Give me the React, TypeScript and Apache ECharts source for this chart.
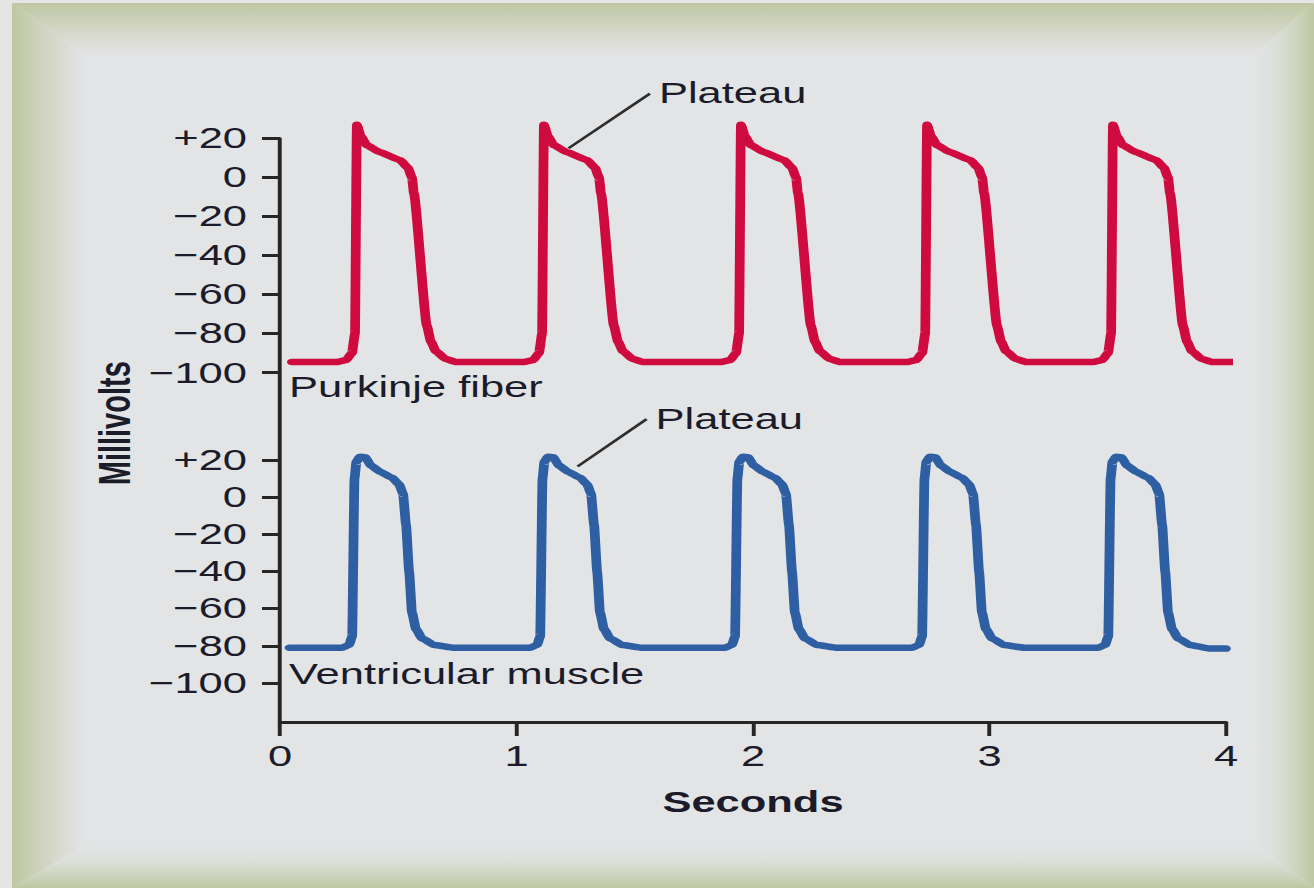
import React, { useEffect, useRef } from "react";
import * as echarts from "echarts";

// The original figure is stretched horizontally; the chart is drawn in a
// narrower box and stretched back with CSS.
const STRETCH = 1.5;
const PAGE_W = 1314;
const PAGE_H = 888;
const W = PAGE_W / STRETCH;

const secondsMin = 0;
const secondsMax = 4;
const mvMin = -100;
const mvMax = 20;
const mvStep = 20;

// Purkinje fiber action potentials (seconds, millivolts)
const purkinjeSec = [
  0.05,
  0.241, 0.279, 0.304, 0.317, 0.325, 0.342, 0.368, 0.422, 0.507, 0.541, 0.558, 0.566, 0.621, 0.638, 0.659, 0.701, 0.744,
  1.032, 1.07, 1.095, 1.108, 1.116, 1.133, 1.159, 1.213, 1.298, 1.332, 1.349, 1.357, 1.412, 1.429, 1.45, 1.492, 1.535,
  1.865, 1.903, 1.928, 1.941, 1.949, 1.966, 1.992, 2.046, 2.131, 2.165, 2.182, 2.19, 2.245, 2.262, 2.283, 2.325, 2.368,
  2.652, 2.69, 2.715, 2.728, 2.736, 2.753, 2.779, 2.833, 2.918, 2.952, 2.969, 2.977, 3.032, 3.049, 3.07, 3.112, 3.155,
  3.438, 3.476, 3.501, 3.514, 3.522, 3.539, 3.565, 3.619, 3.704, 3.738, 3.755, 3.763, 3.818, 3.835, 3.856, 3.898, 3.941,
  4.03,
];
const purkinjeMv = [
  -94.5,
  -94.5, -93.5, -90, -80, 27, 21, 16.5, 13, 9, 5, 0, -8, -76, -84, -89, -93, -94.5,
  -94.5, -93.5, -90, -80, 27, 21, 16.5, 13, 9, 5, 0, -8, -76, -84, -89, -93, -94.5,
  -94.5, -93.5, -90, -80, 27, 21, 16.5, 13, 9, 5, 0, -8, -76, -84, -89, -93, -94.5,
  -94.5, -93.5, -90, -80, 27, 21, 16.5, 13, 9, 5, 0, -8, -76, -84, -89, -93, -94.5,
  -94.5, -93.5, -90, -80, 27, 21, 16.5, 13, 9, 5, 0, -8, -76, -84, -89, -93, -94.5,
  -94.5,
];

// Ventricular muscle action potentials (seconds, millivolts)
const ventricularSec = [
  0.04,
  0.262, 0.292, 0.305, 0.315, 0.323, 0.338, 0.36, 0.385, 0.423, 0.473, 0.503, 0.52, 0.533, 0.546, 0.558, 0.575, 0.601, 0.651, 0.736,
  1.057, 1.087, 1.1, 1.11, 1.118, 1.133, 1.155, 1.18, 1.218, 1.268, 1.298, 1.315, 1.328, 1.341, 1.353, 1.37, 1.396, 1.446, 1.531,
  1.881, 1.911, 1.924, 1.934, 1.942, 1.957, 1.979, 2.004, 2.042, 2.092, 2.122, 2.139, 2.152, 2.165, 2.177, 2.194, 2.22, 2.27, 2.355,
  2.672, 2.702, 2.715, 2.725, 2.733, 2.748, 2.77, 2.795, 2.833, 2.883, 2.913, 2.93, 2.943, 2.956, 2.968, 2.985, 3.011, 3.061, 3.146,
  3.459, 3.489, 3.502, 3.512, 3.52, 3.535, 3.557, 3.582, 3.62, 3.67, 3.7, 3.717, 3.73, 3.743, 3.755, 3.772, 3.798, 3.848, 3.933,
  4.0,
];
const ventricularMv = [
  -81,
  -81, -79.5, -75, 10, 19, 21.8, 21.5, 17, 13.7, 10.5, 7, 2, -15, -40, -62, -71, -76, -79.5, -81,
  -81, -79.5, -75, 10, 19, 21.8, 21.5, 17, 13.7, 10.5, 7, 2, -15, -40, -62, -71, -76, -79.5, -81,
  -81, -79.5, -75, 10, 19, 21.8, 21.5, 17, 13.7, 10.5, 7, 2, -15, -40, -62, -71, -76, -79.5, -81,
  -81, -79.5, -75, 10, 19, 21.8, 21.5, 17, 13.7, 10.5, 7, 2, -15, -40, -62, -71, -76, -79.5, -81,
  -81, -79.5, -75, 10, 19, 21.8, 21.5, 17, 13.7, 10.5, 7, 2, -15, -40, -62, -71, -76, -79.5, -81.5,
  -81.5,
];

// "Plateau" leader lines (seconds, millivolts)
const purkinjeLeaderSec = [1.22, 1.564];
const purkinjeLeaderMv = [15, 43];
const ventricularLeaderSec = [1.258, 1.55];
const ventricularLeaderMv = [16.5, 42];

const FONT = '"Liberation Sans", Arial, Helvetica, sans-serif';
const INK = "#1b1b2a";
const AXIS_INK = "#262626";
const RED = "#cf0a3e";
const BLUE = "#2e5fa3";

const zip = (a: number[], b: number[]) => a.map((v, i) => [v, b[i]]);

const mvLabel = (v: number) => (v === 0 ? "0" : v > 0 ? "+" + v : "\u2212" + Math.abs(v));

// layout (in the un-stretched drawing box)
const AX_LEFT = 280 / STRETCH;
const AX_RIGHT = 1226 / STRETCH;
const AX_W = AX_RIGHT - AX_LEFT;

function buildOption() {
  const green = "#bfc7a2";
  const gray = "#e3e4e6";
  const oL = 12 / STRETCH, iL = 85 / STRETCH, iR = 1253 / STRETCH, oR = W;
  const oT = 3, iT = 55, iB = 845, oB = PAGE_H;
  const grad = (x2: number, y2: number, from: string, to: string) => ({
    type: "linear", x: 0, y: 0, x2, y2, global: false,
    colorStops: [
      { offset: 0, color: from },
      { offset: 0.35, color: from === green ? "#ccd1ba" : "#dde0da" },
      { offset: 0.7, color: from === green ? "#dadcd3" : "#cfd4bf" },
      { offset: 1, color: to },
    ],
  });

  const mvAxis = (gridIndex: number) => ({
    type: "value", gridIndex, min: mvMin, max: mvMax, interval: mvStep,
    axisLine: { show: false },
    axisTick: { show: true, length: 12, lineStyle: { color: AXIS_INK, width: 3 } },
    axisLabel: { show: true, margin: 22, fontSize: 29, color: INK, fontFamily: FONT, formatter: mvLabel },
    splitLine: { show: false },
  });
  const hiddenX = (gridIndex: number) => ({
    type: "value", gridIndex, min: secondsMin, max: secondsMax, show: false,
  });

  const trace = (name: string, x: number[], y: number[], color: string, idx: number) => ({
    type: "line", name, xAxisIndex: idx, yAxisIndex: idx,
    data: zip(x, y), showSymbol: false, symbol: "none", clip: false,
    smooth: 0.15, smoothMonotone: "x",
    lineStyle: { color, width: 6.5, join: "round", cap: "round" },
    z: 3,
  });
  const leader = (x: number[], y: number[], idx: number) => ({
    type: "line", xAxisIndex: idx, yAxisIndex: idx,
    data: zip(x, y), showSymbol: false, symbol: "none", clip: false,
    lineStyle: { color: "#2e2e2e", width: 2.2 },
    endLabel: { show: true, formatter: "Plateau", distance: 6, fontSize: 29, color: INK, fontFamily: FONT },
    z: 4,
  });

  return {
    animation: false,
    backgroundColor: "transparent",
    textStyle: { fontFamily: FONT },
    grid: [
      { left: AX_LEFT, top: 138.5, width: AX_W, height: 234.2, outerBoundsMode: "none" },
      { left: AX_LEFT, top: 460, width: AX_W, height: 223, outerBoundsMode: "none" },
      { left: AX_LEFT, top: 138.5, width: AX_W, height: 583.5, outerBoundsMode: "none" },
    ],
    xAxis: [
      hiddenX(0),
      hiddenX(1),
      {
        type: "value", gridIndex: 2, min: secondsMin, max: secondsMax, interval: 1,
        name: "Seconds", nameLocation: "middle", nameGap: 66,
        nameTextStyle: { fontSize: 29, fontWeight: "bold", color: INK, fontFamily: FONT },
        axisLine: { show: true, lineStyle: { color: AXIS_INK, width: 3 } },
        axisTick: { show: true, length: 14, lineStyle: { color: AXIS_INK, width: 2.6 } },
        axisLabel: { margin: 20, fontSize: 29, color: INK, fontFamily: FONT },
        splitLine: { show: false },
      },
    ],
    yAxis: [
      mvAxis(0),
      mvAxis(1),
      {
        type: "value", gridIndex: 2, min: 0, max: 1,
        name: "Millivolts", nameLocation: "middle", nameGap: 95,
        nameTextStyle: { fontSize: 29, fontWeight: "bold", color: INK, fontFamily: FONT, padding: [0, 0, 0, 14] },
        axisLine: { show: true, lineStyle: { color: AXIS_INK, width: 2.6 } },
        axisTick: { show: false },
        axisLabel: { show: false },
        splitLine: { show: false },
      },
    ],
    graphic: [
      { type: "rect", z: -20, silent: true, shape: { x: iL, y: iT, width: iR - iL, height: iB - iT }, style: { fill: gray } },
      { type: "polygon", z: -20, silent: true, shape: { points: [[oL, oT], [iL, iT], [iL, iB], [oL, oB]] }, style: { fill: grad(1, 0, green, gray) } },
      { type: "polygon", z: -20, silent: true, shape: { points: [[oR, oT], [oR, oB], [iR, iB], [iR, iT]] }, style: { fill: grad(1, 0, gray, green) } },
      { type: "polygon", z: -19, silent: true, shape: { points: [[oL, oT], [oR, oT], [iR, iT], [iL, iT]] }, style: { fill: grad(0, 1, green, gray) } },
      { type: "polygon", z: -19, silent: true, shape: { points: [[oL, oB], [iL, iB], [iR, iB], [oR, oB]] }, style: { fill: grad(0, 1, gray, green) } },
      { type: "text", z: 10, x: 289 / STRETCH, y: 387, style: { text: "Purkinje fiber", fontSize: 29, fontFamily: FONT, fill: INK, verticalAlign: "middle", align: "left" } },
      { type: "text", z: 10, x: 289 / STRETCH, y: 674, style: { text: "Ventricular muscle", fontSize: 29, fontFamily: FONT, fill: INK, verticalAlign: "middle", align: "left" } },
    ],
    series: [
      trace("Purkinje fiber", purkinjeSec, purkinjeMv, RED, 0),
      trace("Ventricular muscle", ventricularSec, ventricularMv, BLUE, 1),
      leader(purkinjeLeaderSec, purkinjeLeaderMv, 0),
      leader(ventricularLeaderSec, ventricularLeaderMv, 1),
    ],
  };
}

export default function App() {
  const ref = useRef<HTMLDivElement>(null);
  useEffect(() => {
    if (!ref.current) return;
    const chart = echarts.init(ref.current, null, { renderer: "svg" });
    chart.setOption(buildOption() as any);
    return () => chart.dispose();
  }, []);
  return (
    <div
      style={{
        position: "fixed", left: 0, top: 0, width: W, height: PAGE_H,
        transform: `scaleX(${STRETCH})`, transformOrigin: "0 0",
        background: "#e5e5e5", overflow: "hidden",
      }}
    >
      <div ref={ref} style={{ width: W, height: PAGE_H }} />
    </div>
  );
}
